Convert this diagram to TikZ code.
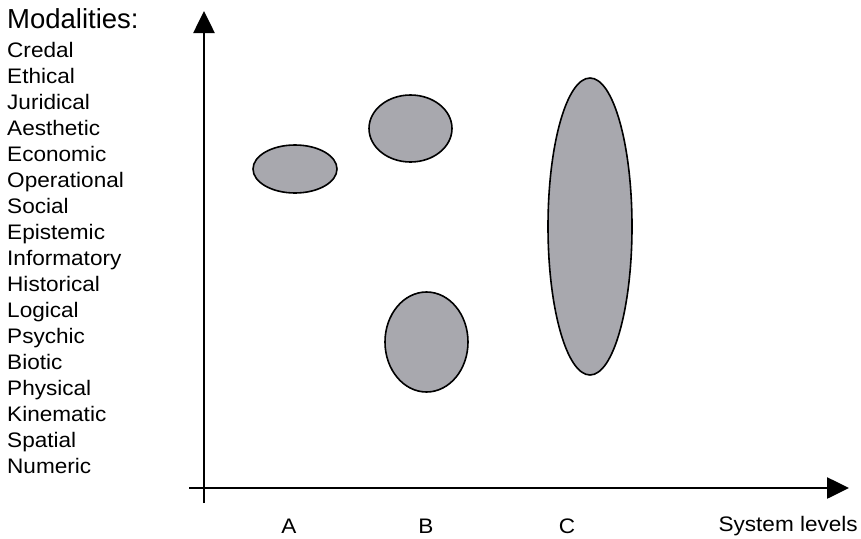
\documentclass[tikz,border=0pt]{standalone}
\usepackage{fontspec}
\setmainfont[FakeStretch=1.075]{Liberation Sans}
\newfontfamily\headfont{Liberation Sans}
\usetikzlibrary{arrows.meta,shapes.geometric}
\definecolor{blobfill}{RGB}{168,168,174}
\tikzset{
  axis/.style={line width=2.6pt,-{Triangle[length=22pt,width=21pt]}},
  blob/.style={ellipse,draw=black,line width=1.6pt,fill=blobfill,inner sep=0pt},
  modtext/.style={anchor=base west,inner sep=0pt,font=\fontsize{21}{21}\selectfont},
  lvltext/.style={anchor=base,inner sep=0pt,font=\fontsize{21}{21}\selectfont},
}
\begin{document}
\begin{tikzpicture}[x=1pt,y=-1pt]
\useasboundingbox[fill=white] (0,0) rectangle (861,538);
% axes
\coordinate (ybot) at (204,503);
\coordinate (ytop) at (204,11);
\coordinate (xleft) at (189,488);
\coordinate (xright) at (849,488);
\draw[axis] (ybot) -- (ytop);
\draw[axis] (xleft) -- (xright);
% heading and modalities
\node[anchor=base west,inner sep=0pt,font=\headfont\fontsize{27.5}{27.5}\selectfont] (head) at (7,28) {Modalities:};
\foreach \t [count=\i from 0] in {Credal,Ethical,Juridical,Aesthetic,Economic,Operational,Social,Epistemic,Informatory,Historical,Logical,Psychic,Biotic,Physical,Kinematic,Spatial,Numeric}
  \node[modtext] (m\i) at (7,57+26*\i) {\t};
% level labels
\node[lvltext] (la) at (289,533) {A};
\node[lvltext] (lb) at (426,533) {B};
\node[lvltext] (lc) at (567,533) {C};
\node[anchor=base east,inner sep=0pt,font=\fontsize{21}{21}\selectfont] (sys) at (858,531) {System levels};
% ellipses
\node[blob,minimum width=84pt,minimum height=48pt] (e1) at (295,169) {};
\node[blob,minimum width=83pt,minimum height=67pt] (e2) at (410.5,128.5) {};
\node[blob,minimum width=83pt,minimum height=100pt] (e3) at (426.5,342) {};
\node[blob,minimum width=84pt,minimum height=297pt] (e4) at (590,226.5) {};
\end{tikzpicture}
\end{document}
